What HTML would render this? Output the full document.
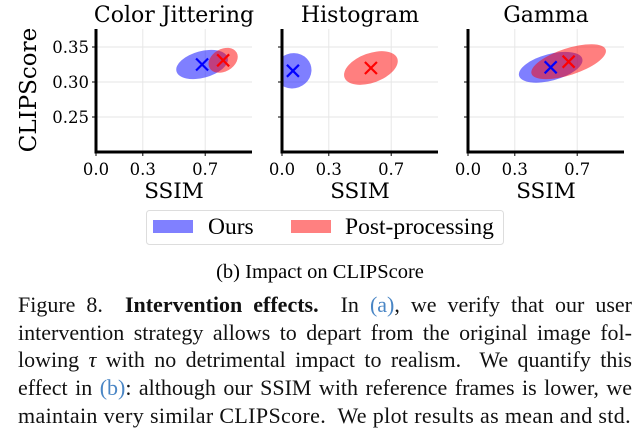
<!DOCTYPE html>
<html><head><meta charset="utf-8">
<style>
body{margin:0;width:643px;height:441px;background:#fff;overflow:hidden;position:relative;font-family:"Liberation Serif",serif;}
svg{position:absolute;left:0;top:0;}
#cap{position:absolute;left:18px;top:291px;width:614px;font-size:22px;line-height:27.7px;text-align:justify;color:#111;}
#cap .l{display:block;text-align-last:justify;white-space:nowrap;}
#cap .last{text-align-last:left;letter-spacing:0.35px;}
a{color:#4a86c5;text-decoration:none;}
</style></head><body>
<svg id="chart" width="643" height="285"></svg>
<div id="cap">
<span class="l">Figure 8.&nbsp; <b>Intervention effects.</b>&nbsp; In <a>(a)</a>, we verify that our user</span>
<span class="l">intervention strategy allows to depart from the original image fol-</span>
<span class="l">lowing <i>τ</i> with no detrimental impact to realism.&nbsp; We quantify this</span>
<span class="l">effect in <a>(b)</a>: although our SSIM with reference frames is lower, we</span>
<span class="l last">maintain very similar CLIPScore.&nbsp; We plot results as mean and std.</span>
</div>
<script>
const titles=["Color Jittering","Histogram","Gamma"];
const xTicks=[0.0,0.3,0.7];
const xTickLabels=["0.0","0.3","0.7"];
const yTicks=[0.25,0.30,0.35];
const yTickLabels=["0.25","0.30","0.35"];
const oursX=[0.68,0.07,0.53];
const oursY=[0.325,0.316,0.321];
const oursSx=[0.17,0.12,0.21];
const oursSy=[0.019,0.025,0.019];
const oursAng=[-15,-20,-15];
const postX=[0.815,0.57,0.645];
const postY=[0.331,0.320,0.329];
const postSx=[0.10,0.18,0.25];
const postSy=[0.016,0.021,0.019];
const postAng=[-30,-20,-18];
const panelLeft=[96,282,468];
const NS="http://www.w3.org/2000/svg";
const FF="'DejaVu Serif','Liberation Serif',serif";
const svg=document.getElementById('chart');
function mk(t,a){const e=document.createElementNS(NS,t);for(const k in a)e.setAttribute(k,a[k]);return e;}
const W=156,plotTop=29,plotBot=152;
const yS=v=>82-(v-0.30)*700;
titles.forEach((t,i)=>{
  const L=panelLeft[i];const xS=v=>L+v*W;
  const g=mk('g',{});
  
  
  svg.appendChild(g);
  const cid='clip'+i;
  const cp=mk('clipPath',{id:cid});cp.appendChild(mk('rect',{x:L,y:plotTop,width:W,height:plotBot-plotTop}));g.appendChild(cp);
  xTicks.forEach((v,j)=>{
    const gl=mk('line',{x1:xS(v),x2:xS(v),y1:plotTop,y2:plotBot,stroke:'#e6e6e6','stroke-width':1});
    
    
    g.appendChild(gl);
    g.appendChild(mk('line',{x1:xS(v),x2:xS(v),y1:plotBot,y2:plotBot+4,stroke:'#000','stroke-width':1}));
    const tx=mk('text',{x:xS(v),y:plotBot+23,'text-anchor':'middle','font-family':FF,'font-size':16.5});
    tx.textContent=xTickLabels[j];
    
    
    g.appendChild(tx);
  });
  yTicks.forEach((v,j)=>{
    const gl=mk('line',{x1:L,x2:L+W,y1:yS(v),y2:yS(v),stroke:'#e6e6e6','stroke-width':1});
    
    
    g.appendChild(gl);
    g.appendChild(mk('line',{x1:L-4,x2:L,y1:yS(v),y2:yS(v),stroke:'#000','stroke-width':1}));
    if(i===0){
      const tx=mk('text',{x:L-7,y:yS(v)+6,'text-anchor':'end','font-family':FF,'font-size':16.5});
      tx.textContent=yTickLabels[j];
      
      
      g.appendChild(tx);
    }
  });
  const ce=mk('g',{'clip-path':'url(#'+cid+')'});g.appendChild(ce);
  const series=[[oursX,oursY,oursSx,oursSy,oursAng,'rgba(0,0,255,0.5)','#0000ff','ours'],[postX,postY,postSx,postSy,postAng,'rgba(255,0,0,0.5)','#ff0000','post']];
  series.forEach(s=>{
    const cx=xS(s[0][i]),cy=yS(s[1][i]);
    const el=mk('ellipse',{cx:cx,cy:cy,rx:s[2][i]*W,ry:s[3][i]*700,fill:s[5],transform:`rotate(${s[4][i]} ${cx} ${cy})`});
    
    
    ce.appendChild(el);
  });
  series.forEach(s=>{
    const cx=xS(s[0][i]),cy=yS(s[1][i]),d=6;
    const m=mk('path',{d:`M${cx-d},${cy-d}L${cx+d},${cy+d}M${cx-d},${cy+d}L${cx+d},${cy-d}`,stroke:s[6],'stroke-width':2.2,fill:'none'});
    
    
    ce.appendChild(m);
  });
  g.appendChild(mk('path',{d:`M${L},${plotTop}L${L},${plotBot}L${L+W},${plotBot}`,stroke:'#000','stroke-width':3,fill:'none'}));
  const tt=mk('text',{x:L+W/2,y:22,'text-anchor':'middle','font-family':FF,'font-size':22});
  tt.textContent=t;
  
  
  g.appendChild(tt);
  const xl=mk('text',{x:L+W/2,y:198,'text-anchor':'middle','font-family':FF,'font-size':21.5});
  xl.textContent='SSIM';
  
  
  g.appendChild(xl);
});
const yl=mk('text',{x:0,y:0,'text-anchor':'middle','font-family':FF,'font-size':23,transform:'translate(36,90) rotate(-90)'});
yl.textContent='CLIPScore';


svg.appendChild(yl);
const lg=mk('g',{});


svg.appendChild(lg);
lg.appendChild(mk('rect',{x:146.5,y:210.5,width:357,height:34,rx:3,fill:'#fff',stroke:'#ddd'}));
[[153,'#8080ff','Ours',208,'legend-entry-ours'],[291,'#ff8080','Post-processing',345,'legend-entry-post']].forEach(e=>{
  const it=mk('g',{});
  
  
  lg.appendChild(it);
  it.appendChild(mk('rect',{x:e[0],y:220,width:40,height:13,fill:e[1]}));
  const tx=mk('text',{x:e[3],y:234,'font-family':'Liberation Serif, serif','font-size':23.5});
  tx.textContent=e[2];it.appendChild(tx);
});
const sc=mk('text',{x:320,y:278,'text-anchor':'middle','font-family':'Liberation Serif, serif','font-size':20.5});
sc.textContent='(b) Impact on CLIPScore';


svg.appendChild(sc);
</script>
</body></html>
